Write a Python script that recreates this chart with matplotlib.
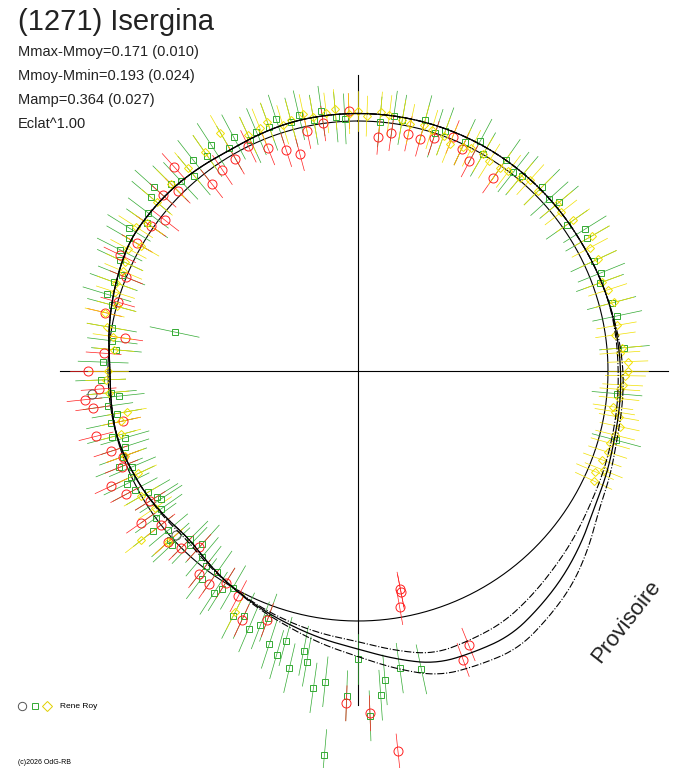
import numpy as np
import matplotlib.pyplot as plt

plt.rcParams['font.family'] = ['Liberation Sans', 'DejaVu Sans']

# phase angle (deg, clockwise from top), normalised radius (1 = reference circle)
green_ang = [185, 178, 175, 190, 195, 200, 205, 210, 215, 220, 225, 230, 235, 240, 245, 250, 255,
             260, 265, 275, 280, 285, 290, 295, 300, 305, 310, 315, 320, 325, 330, 335, 340, 345,
             350, 355, 5, 10, 20, 30, 40, 45, 50, 55, 60, 65, 70, 75, 282, 172, 180, 188, 193, 198,
             203, 168, 182, 212, 222, 232, 242, 252, 262, 272, 302, 312, 322, 332, 342, 352, 15, 25,
             35, 85, 95, 105, 218, 228, 238, 248,
             207, 213, 217, 224, 227, 234, 237, 244, 247, 254, 258, 264, 268, 277, 287, 292, 297,
             307, 317, 327, 337, 347, 357, 8, 18, 28, 38, 48, 58, 68, 78, 176, 186, 196, 201, 191]
green_r = [1.54, 1.38, 1.24, 1.18, 1.12, 1.05, 1.08, 1.00, 0.98, 0.97, 0.95, 0.99, 0.96, 0.97, 1.00,
           1.00, 1.02, 0.98, 0.99, 0.97, 1.00, 1.02, 1.04, 1.05, 1.06, 1.03, 1.08, 1.06, 1.02, 1.05,
           1.03, 1.02, 1.04, 1.03, 1.02, 1.02, 1.00, 1.02, 1.02, 1.00, 1.02, 1.04, 1.05, 1.02, 1.06,
           1.04, 1.03, 1.05, 0.75, 1.20, 1.15, 1.28, 1.22, 1.15, 1.12, 1.22, 1.30, 1.03, 0.93, 1.04,
           1.01, 0.98, 1.01, 1.02, 1.08, 1.10, 1.07, 1.06, 1.06, 1.05, 1.04, 1.01, 1.03, 1.07, 1.04,
           1.07, 0.99, 1.01, 0.95, 1.03,
           1.10, 1.06, 1.04, 0.97, 1.02, 1.00, 0.94, 1.03, 0.98, 0.97, 1.01, 0.96, 1.03, 0.99,
           1.05, 1.02, 1.07, 1.05, 1.04, 1.08, 1.04, 1.05, 1.01, 1.03, 1.00, 1.04, 1.01, 1.03,
           1.07, 1.05, 1.06, 1.30, 1.25, 1.18, 1.09, 1.14]

red_ang = [169, 169, 170, 160, 174, 178, 182, 200, 205, 212, 218, 222, 228, 232, 238, 242, 248, 252,
           256, 262, 266, 270, 278, 286, 292, 300, 308, 315, 322, 330, 338, 345, 352, 358, 5, 12,
           18, 25, 35, 158, 208, 245, 258, 296, 318, 334,
           215, 225, 235, 250, 264, 274, 283, 305, 312, 326, 342, 348, 8, 15, 22, 28]
red_r = [0.89, 0.90, 0.96, 1.23, 1.53, 1.37, 1.33, 1.06, 1.10, 1.00, 1.03, 0.95, 1.02, 1.00, 0.98,
         1.05, 1.02, 1.04, 1.08, 1.07, 1.04, 1.08, 0.94, 1.00, 1.00, 1.02, 0.98, 1.02, 0.95, 0.98,
         0.96, 0.90, 1.00, 1.04, 0.94, 0.97, 0.98, 0.98, 0.94, 1.18, 1.02, 1.09, 0.96, 1.06, 1.10, 1.00,
         1.04, 1.00, 1.06, 1.00, 1.10, 1.02, 1.04, 1.01, 1.05, 0.97, 0.93, 0.98, 0.96, 0.96, 1.01, 0.95]

yellow_ang = [335, 340, 345, 350, 355, 0, 5, 10, 15, 20, 25, 30, 35, 40, 45, 50, 55, 60, 65, 70, 75,
              80, 85, 88, 90, 93, 96, 100, 104, 108, 112, 115, 255, 260, 265, 270, 275, 280, 285,
              290, 295, 300, 310, 320, 325, 240, 245, 232, 330, 2, 12, 22, 32, 42, 98, 102, 110,
              283, 293, 303,
              338, 343, 348, 353, 358, 7, 17, 27, 37, 52, 62, 72, 82, 86, 91, 94, 99, 106, 113,
              258, 268, 278, 288, 298, 305, 315, 250, 236, 228, 207]
yellow_r = [1.04, 1.06, 1.04, 1.03, 1.05, 1.04, 1.04, 1.02, 1.02, 1.00, 0.99, 1.00, 0.99, 1.01,
            1.02, 1.04, 1.05, 1.08, 1.06, 1.04, 1.06, 1.05, 1.06, 1.08, 1.08, 1.06, 1.05, 1.06,
            1.06, 1.05, 1.06, 1.04, 0.98, 0.94, 1.00, 1.00, 0.98, 1.02, 1.00, 1.03, 1.03, 1.00,
            1.05, 1.06, 1.07, 1.00, 0.97, 1.10, 1.10, 1.02, 1.01, 0.98, 0.99, 1.03, 1.03, 1.07,
            1.04, 1.04, 1.02, 1.06,
            1.05, 1.03, 1.05, 1.04, 1.03, 1.03, 1.01, 1.00, 1.00, 1.03, 1.05, 1.05, 1.04, 1.05,
            1.07, 1.05, 1.04, 1.05, 1.03, 0.97, 1.01, 0.99, 1.02, 1.04, 1.03, 1.06, 0.99, 0.98,
            1.02, 1.08]

grey_ang = [265, 228]
grey_r = [1.07, 0.98]

fit_ang = [0, 15, 30, 45, 60, 75, 90, 105, 120, 135, 150, 165, 180, 195, 210, 225, 240, 255, 270,
           285, 300, 315, 330, 345]
fit_r = [1.03, 1.03, 1.03, 1.03, 1.03, 1.04, 1.05, 1.06, 1.09, 1.16, 1.22, 1.21, 1.11, 1.05, 1.00,
         0.95, 0.98, 1.00, 0.99, 1.02, 1.05, 1.04, 1.02, 1.03]
fit_hi = [1.03, 1.03, 1.03, 1.03, 1.03, 1.04, 1.06, 1.07, 1.11, 1.21, 1.28, 1.26, 1.14, 1.06, 1.00,
          0.96, 0.98, 1.00, 0.99, 1.02, 1.05, 1.04, 1.02, 1.03]
fit_lo = [1.03, 1.03, 1.03, 1.03, 1.03, 1.04, 1.04, 1.05, 1.07, 1.11, 1.16, 1.17, 1.08, 1.04, 1.00,
          0.95, 0.98, 1.00, 0.99, 1.02, 1.05, 1.04, 1.02, 1.03]

R0 = 250.0


def xy(ang, r):
    a = np.radians(np.asarray(ang, float))
    r = np.asarray(r, float)
    return r * np.sin(a), r * np.cos(a)


def smooth(ang, r):
    a = np.radians(np.asarray(ang, float))
    t = np.linspace(0, 2 * np.pi, 721)
    ap = np.concatenate([a - 2 * np.pi, a, a + 2 * np.pi])
    rp = np.tile(np.asarray(r, float), 3)
    rr = np.interp(t, ap, rp)
    k = np.ones(15) / 15
    rr = np.convolve(np.concatenate([rr[-7:], rr, rr[:7]]), k, mode='valid')
    return rr * np.sin(t), rr * np.cos(t)


def draw_series(ax, ang, r, color, marker, ms, err):
    a = np.radians(np.asarray(ang, float))
    r = np.asarray(r, float)
    for ai, ri in zip(a, r):
        ax.plot([(ri - err) * np.sin(ai), (ri + err) * np.sin(ai)],
                [(ri - err) * np.cos(ai), (ri + err) * np.cos(ai)],
                color=color, lw=0.5, zorder=2)
    x, y = xy(ang, r)
    ax.plot(x, y, ls='none', marker=marker, ms=ms, mfc='none', mec=color, mew=0.7, zorder=3)


fig = plt.figure(figsize=(6.88, 7.68), dpi=100)
ax = fig.add_axes([0, 0, 1, 1])
ax.set_xlim(-358 / R0, 330 / R0)
ax.set_ylim(-397 / R0, 371 / R0)
ax.axis('off')

ax.plot([-298 / R0, 310 / R0], [0, 0], color='black', lw=0.8)
ax.plot([0, 0], [-334 / R0, 296 / R0], color='black', lw=0.8)
t = np.linspace(0, 2 * np.pi, 400)
ax.plot(np.sin(t), np.cos(t), color='black', lw=0.8)

draw_series(ax, green_ang, green_r, '#33aa33', 's', 4.5, 0.10)
draw_series(ax, red_ang, red_r, '#ff2020', 'o', 6.5, 0.07)
draw_series(ax, yellow_ang, yellow_r, '#f0e000', 'D', 4.5, 0.08)
gx, gy = xy(grey_ang, grey_r)
ax.plot(gx, gy, ls='none', marker='o', ms=6.5, mfc='none', mec='#555555', mew=0.7)

x, y = smooth(fit_ang, fit_r)
ax.plot(x, y, color='black', lw=0.9, zorder=4)
x, y = smooth(fit_ang, fit_hi)
ax.plot(x, y, color='black', lw=0.8, ls='-.', zorder=4)
x, y = smooth(fit_ang, fit_lo)
ax.plot(x, y, color='black', lw=0.8, ls='-.', zorder=4)

fig.text(18 / 688, 1 - 22 / 768, '(1271) Isergina', fontsize=21, color='#222222', va='center')
for i, s in enumerate(['Mmax-Mmoy=0.171 (0.010)', 'Mmoy-Mmin=0.193 (0.024)',
                       'Mamp=0.364 (0.027)', 'Eclat^1.00']):
    fig.text(18 / 688, 1 - (52 + 24 * i) / 768, s, fontsize=10.5, color='#222222', va='center')
fig.text(626 / 688, 1 - 622 / 768, 'Provisoire', fontsize=16, rotation=52, color='#222222',
         ha='center', va='center')

fig.text(60 / 688, 1 - 706 / 768, 'Rene Roy', fontsize=6, va='center')
lx = [-336 / R0, -323 / R0, -311 / R0]
ly = -335 / R0
ax.plot(lx[0], ly, marker='o', ms=6, mfc='none', mec='#555555', mew=0.7)
ax.plot(lx[1], ly, marker='s', ms=5, mfc='none', mec='#33aa33', mew=0.7)
ax.plot(lx[2], ly, marker='D', ms=5, mfc='none', mec='#e0d000', mew=0.7)
fig.text(18 / 688, 1 - 762 / 768, '(c)2026 OdG-RB', fontsize=5, va='center')

fig.savefig('out.png', dpi=100)
